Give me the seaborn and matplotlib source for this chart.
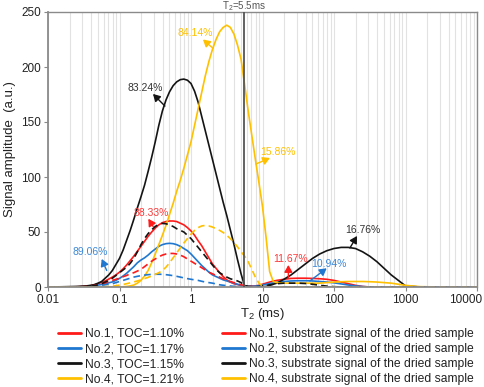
import numpy as np
import matplotlib
matplotlib.use("Agg")
import matplotlib.pyplot as plt
import matplotlib.transforms as mtransforms
from matplotlib.lines import Line2D
import seaborn as sns

# --- data: T2 as log10 exponent (ms), amplitude in a.u. ---
t2_exp = [-2.0, -1.8, -1.6,
          -1.5, -1.45, -1.4, -1.35, -1.3, -1.25, -1.2, -1.15, -1.1, -1.05,
          -1.0, -0.95, -0.9, -0.85, -0.8, -0.75, -0.7, -0.65, -0.6, -0.55,
          -0.5, -0.45, -0.4, -0.35, -0.3, -0.25, -0.2, -0.15, -0.1, -0.05,
          0.0, 0.05, 0.1, 0.15, 0.2, 0.25, 0.3, 0.35, 0.4, 0.45,
          0.5, 0.55, 0.6, 0.65, 0.7, 0.75, 0.8, 0.85, 0.9, 0.95,
          1.0, 1.05, 1.1, 1.15, 1.2,
          1.3, 1.4, 1.5, 1.6, 1.7, 1.8, 1.9, 2.0, 2.1, 2.2, 2.3, 2.4, 2.5,
          2.6, 2.7, 2.8, 2.9, 3.0, 3.2, 3.5, 4.0]

no1 = [0, 0, 0.2,
       0.5, 0.8, 1.3, 2, 3, 4.2, 5.5, 7.2, 9, 11,
       13.5, 16.5, 20, 24, 28, 32.5, 37, 41.5, 46, 50,
       53.5, 56.5, 58.5, 59.5, 60, 60, 59.5, 58, 56.5, 54,
       51, 47, 42, 37.5, 32, 26.5, 21, 17, 13, 9.5,
       6.5, 4.5, 3, 2.2, 1.5, 0.8, 0.6, 0.8, 1, 1.5,
       2.5, 3.5, 4.5, 5.3, 6,
       7, 7.8, 8, 8, 7.8, 7.5, 7, 6, 4.5, 3, 1.5, 0.5, 0,
       0, 0, 0, 0, 0, 0, 0, 0]
no2 = [0, 0, 0.1,
       0.3, 0.5, 0.8, 1.2, 1.7, 2.3, 3, 3.8, 4.6, 6,
       7.8, 10, 12.5, 15.5, 18.5, 22, 24.5, 26.5, 29, 32,
       34.5, 37, 38.5, 39.4, 39.7, 39.4, 38.5, 37, 35, 33,
       30, 26.5, 23, 19.5, 16.5, 13.5, 11, 9.5, 8, 6.5,
       5.5, 4.5, 3.5, 2.5, 1.5, 1, 0.6, 0.6, 0.8, 1.2,
       1.8, 2.5, 3.2, 3.7, 4.2,
       5, 5.5, 5.7, 5.7, 5.5, 5, 4.5, 3.8, 2.8, 1.8, 1, 0.4, 0,
       0, 0, 0, 0, 0, 0, 0, 0]
no3 = [0, 0.2, 0.5,
       0.8, 1.1, 1.5, 2.2, 3.5, 5, 8, 11, 15, 20.5,
       26, 33.5, 42.5, 51.5, 61.5, 72, 82, 92.5, 105, 118,
       132, 147, 160, 170, 177.5, 183, 186.5, 188.5, 189, 188,
       185, 178, 168, 155, 142, 129, 116, 103, 90, 77,
       65, 52, 39, 25, 12, 1, 0, 0, 0, 0,
       0, 0.5, 1.5, 2.5, 3.5,
       7, 11, 16, 21, 26, 30, 33, 35, 36, 36, 35, 32, 28,
       23, 17, 11, 6, 1, 0, 0, 0]
no4 = [0, 0, 0,
       0, 0, 0, 0, 0, 0, 0, 0, 0, 0,
       0, 0.2, 0.5, 1, 1.8, 3.5, 6, 10, 15, 22,
       30, 38.5, 47, 56, 66, 76, 87, 97, 108, 120,
       132, 147, 162, 177, 192, 205, 216, 225, 232, 236,
       238, 236, 230, 220, 207, 184, 160, 138, 116, 95,
       73, 45, 14, 5, 4,
       3.5, 3.5, 3.5, 3.5, 3.5, 3.5, 4, 4.5, 4.8, 5, 5, 5, 4.8,
       4.5, 4, 3.5, 2.5, 1.5, 0.3, 0, 0]

sub1 = [0, 0, 0,
        0.3, 0.5, 0.9, 1.4, 2, 2.8, 3.7, 4.8, 6, 7,
        8, 9.3, 10.5, 12, 13, 14.5, 16, 18.5, 21, 23.5,
        25.5, 27.5, 29, 30, 30.5, 30.5, 30, 29, 27.5, 25.5,
        23.5, 21.5, 19.5, 17.5, 15.5, 13.5, 12, 10.5, 9, 7.5,
        6, 5, 4, 3, 2, 1.2, 0.5, 0.2, 0, 0,
        0, 0, 0, 0, 0,
        0, 0, 0, 0, 0, 0, 0, 0, 0, 0, 0, 0, 0,
        0, 0, 0, 0, 0, 0, 0, 0]
sub2 = [0, 0, 0,
        0, 0.1, 0.3, 0.6, 1, 1.5, 2, 2.5, 3, 4,
        5, 6, 7, 8, 9, 9.7, 10.3, 10.8, 11.2, 11.5,
        11.6, 11.6, 11.5, 11.2, 10.8, 10.3, 9.7, 9, 8.3, 7.6,
        7, 6.5, 6, 5.2, 4.5, 4, 3.5, 2.8, 2, 1.6,
        1.2, 0.9, 0.6, 0.4, 0.3, 0.1, 0, 0, 0, 0,
        0, 0, 0, 0, 0,
        0, 0, 0, 0, 0, 0, 0, 0, 0, 0, 0, 0, 0,
        0, 0, 0, 0, 0, 0, 0, 0]
sub3 = [0, 0, 0.1,
        0.3, 0.5, 0.8, 1.2, 2, 3, 4.5, 6, 8, 10.5,
        13, 15.5, 18, 21.5, 26, 32, 38.5, 44, 48.5, 52,
        55, 57, 57.8, 57.5, 56.5, 55, 53, 51.5, 50, 47,
        44, 40, 36, 32, 28, 24, 20, 16, 13, 11,
        9, 7.5, 6.5, 5.5, 4, 1.5, 0.5, 0.3, 0.3, 0.5,
        1, 1.5, 2, 2.5, 3,
        3.5, 3.5, 3.5, 3.2, 2.5, 1.5, 0.8, 0.3, 0, 0, 0, 0, 0,
        0, 0, 0, 0, 0, 0, 0, 0]
sub4 = [0, 0, 0,
        0, 0, 0, 0, 0, 0.1, 0.3, 0.5, 0.8, 1.2,
        1.7, 2.3, 3, 3.8, 4.6, 5.5, 6.5, 7.6, 8.8, 10,
        11.5, 13, 15, 18, 22, 26.5, 31, 35.5, 40, 44,
        48, 51.5, 54, 55.5, 56, 55.5, 54.5, 53, 51.5, 49.5,
        47, 44, 40.5, 36.5, 32, 28, 23, 16, 9, 3.5,
        0.8, 0, 0, 0, 0,
        0, 0, 0, 0, 0, 0, 0, 0, 0, 0, 0, 0, 0,
        0, 0, 0, 0, 0, 0, 0, 0]

labels_main = ["No.1, TOC=1.10%", "No.2, TOC=1.17%", "No.3, TOC=1.15%", "No.4, TOC=1.21%"]
labels_sub = ["No.%d, substrate signal of the dried sample" % i for i in range(1, 5)]
colors = ["#ff1a1a", "#1f77d0", "#141414", "#ffc000"]
text_colors = ["#ff3838", "#3b87d6", "#333333", "#ffc000"]

# annotation: text, colour index, text pos (T2, amp), arrow head, arrow tail on curve
notes = [
    ("84.14%", 3, (1.14, 231), (1.47, 225), (2.03, 217)),
    ("83.24%", 2, (0.227, 181), (0.294, 175.5), (0.432, 164.5)),
    ("88.33%", 0, (0.275, 67.5), (0.253, 62), (0.297, 54.8)),
    ("89.06%", 1, (0.0386, 32), (0.0564, 25.5), (0.0662, 15)),
    ("15.86%", 3, (16.5, 123), (12.7, 117.3), (8.1, 111.8)),
    ("16.76%", 2, (251, 51.8), (210, 46.4), (167, 35.5)),
    ("11.67%", 0, (24.7, 25.5), (23, 20), (23, 8.2)),
    ("10.94%", 1, (83.7, 20.9), (79, 17), (46, 5.5)),
]

sns.set_theme(style="white")
plt.rcParams["font.family"] = ["Liberation Sans", "DejaVu Sans"]
plt.rcParams["mathtext.fontset"] = "custom"
plt.rcParams["mathtext.rm"] = "Liberation Sans"

t2 = 10 ** np.array(t2_exp)

fig = plt.figure(figsize=(4.84, 3.87), dpi=100)
ax = fig.add_axes([48 / 484, 1 - 287 / 387, 429 / 484, 275 / 387])

for amp, c in zip([no1, no2, no3, no4], colors):
    sns.lineplot(x=t2, y=amp, ax=ax, color=c, lw=1.2, estimator=None, sort=False)
for amp, c in zip([sub1, sub2, sub3, sub4], colors):
    sns.lineplot(x=t2, y=amp, ax=ax, color=c, lw=1.2, linestyle=(0, (4, 2.5)),
                 estimator=None, sort=False)

ax.axvline(5.5, color="#555555", lw=1.3, zorder=5)
ax.annotate(r"$\mathregular{T_2}$=5.5ms", xy=(5.5, 1.0), xycoords=("data", "axes fraction"),
            xytext=(0, 1.8), textcoords="offset points", ha="center", va="baseline",
            fontsize=7, color="#555555")

for txt, ci, pos, head, tail in notes:
    ax.annotate("", xy=head, xytext=tail,
                arrowprops=dict(arrowstyle="-|>,head_length=0.35,head_width=0.2",
                                color=colors[ci], lw=1.0, shrinkA=0, shrinkB=0))
    ax.text(pos[0], pos[1], txt, color=text_colors[ci], fontsize=7.5,
            ha="center", va="center")

ax.set_xscale("log")
ax.set_xlim(0.01, 10000)
ax.set_ylim(0, 250)
ax.set_xticks([0.01, 0.1, 1, 10, 100, 1000, 10000])
ax.set_xticklabels(["0.01", "0.1", "1", "10", "100", "1000", "10000"])
ax.set_yticks([0, 50, 100, 150, 200, 250])
ax.grid(True, which="both", axis="x", color="#e2e2e2", lw=0.8)
ax.grid(False, axis="y")
ax.tick_params(axis="both", which="major", length=3, width=0.8, color="#888888",
               labelsize=8.5, labelcolor="#222222", pad=2, bottom=True, left=True)
ax.tick_params(axis="x", which="minor", length=0)
for side in ["top", "right", "left", "bottom"]:
    ax.spines[side].set_color("#8a8a8a")
    ax.spines[side].set_linewidth(1.0)
ax.spines["left"].set_linewidth(1.3)
ax.spines["bottom"].set_linewidth(1.3)

# last tick label sits pulled in against the right edge, as in the reference
last = ax.get_xticklabels()[-1]
last.set_ha("right")
last.set_transform(last.get_transform() + mtransforms.ScaledTranslation(5 / 100, 0, fig.dpi_scale_trans))

ax.set_xlabel(r"$\mathregular{T_2}$ (ms)", fontsize=9.5, color="#222222", labelpad=0)
ax.set_ylabel("Signal amplitude  (a.u.)", fontsize=9.5, color="#222222", labelpad=4)

h_main = [Line2D([], [], color=c, lw=2) for c in colors]
h_sub = [Line2D([], [], color=c, lw=2) for c in colors]
leg_kw = dict(frameon=False, fontsize=8.7, handlelength=1.9, handletextpad=0.3,
              labelspacing=0.25, borderpad=0, borderaxespad=0, loc="upper left")
leg1 = fig.legend(h_main, labels_main, bbox_to_anchor=(58 / 484, 1 - 328 / 387), **leg_kw)
leg2 = fig.legend(h_sub, labels_sub, bbox_to_anchor=(222 / 484, 1 - 328 / 387), **leg_kw)
for leg in (leg1, leg2):
    for t in leg.get_texts():
        t.set_color("#222222")

fig.savefig("out.png", dpi=100)
